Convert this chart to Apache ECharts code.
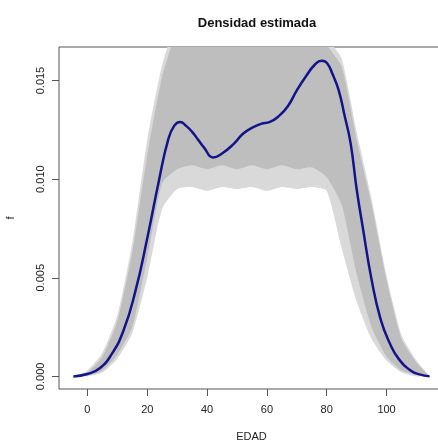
<!DOCTYPE html>
<html>
<head>
<meta charset="utf-8">
<script src="https://cdn.jsdelivr.net/npm/echarts@6/dist/echarts.min.js"></script>
<style>
  html, body { margin: 0; padding: 0; background: #fff; }
  #chart { width: 438px; height: 442px; }
</style>
</head>
<body>
<div id="chart"></div>
<script>
// EDAD grid shared by the grey bootstrap envelopes
const bandX = [-4.7, 0, 5, 10, 15, 20, 25, 30, 35, 40, 45, 50, 55, 60, 65, 70, 75, 80, 85, 90, 95, 100, 105, 110, 114.4];
// outer (faint) lines
const faintLower = [0, 0, 0.0002, 0.0009, 0.0022, 0.0050, 0.0085, 0.0095, 0.0096, 0.0094, 0.0096, 0.0095, 0.0096, 0.0094, 0.0096, 0.0095, 0.0096, 0.0094, 0.0065, 0.0038, 0.0019, 0.0008, 0.0002, 0, 0];
const faintUpper = [0, 0.0003, 0.0012, 0.0031, 0.0068, 0.0120, 0.0158, 0.0180, 0.0185, 0.0185, 0.0185, 0.0185, 0.0185, 0.0185, 0.0185, 0.0185, 0.0184, 0.0172, 0.0161, 0.0124, 0.0090, 0.0051, 0.0021, 0.0008, 0];
// dense core of the grey curves
const denseLower = [0, 0.00005, 0.0003, 0.0011, 0.0025, 0.0060, 0.0098, 0.0105, 0.0107, 0.0105, 0.0107, 0.0105, 0.0107, 0.0105, 0.0107, 0.0105, 0.0106, 0.0101, 0.0087, 0.0052, 0.0025, 0.0010, 0.0003, 0.0001, 0];
const denseUpper = [0, 0.0002, 0.0010, 0.0028, 0.0063, 0.0112, 0.0152, 0.0175, 0.0180, 0.0180, 0.0180, 0.0180, 0.0180, 0.0180, 0.0180, 0.0180, 0.0178, 0.0168, 0.0157, 0.0120, 0.0087, 0.0049, 0.0019, 0.0007, 0];

// estimated density (blue)
const blueX = [-4.7, 0, 4, 8, 12, 16, 20, 24, 27, 29, 31, 33, 35, 37, 39, 42, 45, 49, 52, 55, 58, 61, 64, 67, 70, 73, 76, 78.3, 80, 82, 84, 86, 88, 90, 92, 95, 98, 101, 104, 108, 111, 114.4];
const blueY = [0, 0.00012, 0.0004, 0.0011, 0.0023, 0.0043, 0.0070, 0.0100, 0.0120, 0.0127, 0.0129, 0.0127, 0.0124, 0.0120, 0.0116, 0.0111, 0.0113, 0.0118, 0.0123, 0.0126, 0.0128, 0.0129, 0.0132, 0.0137, 0.0145, 0.0152, 0.0158, 0.0160, 0.0159, 0.0153, 0.0145, 0.0132, 0.0118, 0.0095, 0.0076, 0.0049, 0.0029, 0.0017, 0.0009, 0.0003, 0.0001, 0];

const xTicks = [0, 20, 40, 60, 80, 100];
const yTicks = [0, 0.005, 0.010, 0.015];

const chart = echarts.init(document.getElementById('chart'));

const font = 'Liberation Sans, Arial, sans-serif';

// band between two curves, drawn as one polygon through the axis scales
const bandSeries = (name, lower, upper, color) => {
  const rows = bandX.map((x, i) => [x, lower[i], upper[i]]);
  return {
    name: name,
    type: 'custom',
    clip: true,
    silent: true,
    encode: { x: 0, y: [1, 2] },
    data: rows,
    renderItem: (params, api) => {
      if (params.dataIndex !== 0) return null;
      const top = rows.map(r => api.coord([r[0], r[2]]));
      const bottom = rows.map(r => api.coord([r[0], r[1]])).reverse();
      return {
        type: 'polygon',
        shape: { points: top.concat(bottom), smooth: 0.2 },
        style: { fill: color, stroke: null }
      };
    }
  };
};

const option = {
  animation: false,
  backgroundColor: '#fff',
  title: {
    text: 'Densidad estimada',
    left: 252,
    top: 12,
    textAlign: 'center',
    textStyle: { fontFamily: font, fontSize: 13, fontWeight: 'bold', color: '#111' }
  },
  grid: {
    left: 59,
    top: 47,
    width: 385,
    height: 342,
    show: true,
    borderColor: '#555',
    borderWidth: 1,
    containLabel: false,
    outerBoundsMode: 'none'
  },
  xAxis: {
    type: 'value',
    min: -9.5,
    max: 119.2,
    name: 'EDAD',
    nameLocation: 'middle',
    nameGap: 42,
    nameTextStyle: { fontFamily: font, fontSize: 11, color: '#222' },
    splitLine: { show: false },
    axisLine: { show: false, onZero: false },
    axisTick: { show: true, length: 7, customValues: xTicks, lineStyle: { color: '#555' } },
    axisLabel: { customValues: xTicks, margin: 15, fontFamily: font, fontSize: 11, color: '#222' }
  },
  yAxis: {
    type: 'value',
    min: -0.00064,
    max: 0.0167,
    name: 'f',
    nameLocation: 'middle',
    nameGap: 43,
    nameTextStyle: { fontFamily: font, fontSize: 11, color: '#222' },
    splitLine: { show: false },
    axisLine: { show: false, onZero: false },
    axisTick: { show: true, length: 7, customValues: yTicks, lineStyle: { color: '#555' } },
    axisLabel: {
      customValues: yTicks,
      rotate: 90,
      margin: 13,
      fontFamily: font,
      fontSize: 11,
      color: '#222',
      formatter: v => v.toFixed(3)
    }
  },
  series: [
    bandSeries('faint', faintLower, faintUpper, '#d9d9d9'),
    bandSeries('dense', denseLower, denseUpper, '#bebebe'),
    {
      name: 'densidad',
      type: 'line',
      data: blueX.map((x, i) => [x, blueY[i]]),
      smooth: true,
      showSymbol: false,
      lineStyle: { color: '#14148a', width: 2.5 },
      z: 5
    }
  ]
};

chart.setOption(option);
</script>
</body>
</html>
